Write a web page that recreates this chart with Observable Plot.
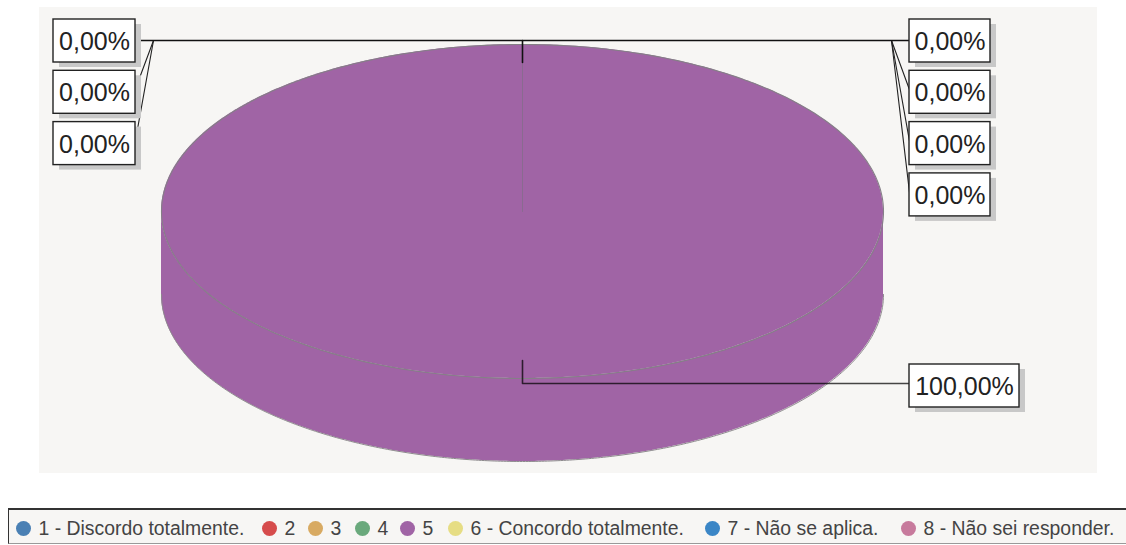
<!DOCTYPE html>
<html lang="pt">
<head>
<meta charset="utf-8">
<script src="https://cdn.jsdelivr.net/npm/d3@7"></script>
<script src="https://cdn.jsdelivr.net/npm/@observablehq/plot@0.6"></script>
<style>
html,body{margin:0;padding:0;background:#fff;overflow:hidden;width:1126px;height:545px}
svg{display:block}
#legend{box-sizing:border-box;position:absolute;left:8px;top:508px;width:1130px;height:36px;background:#f7f6f4;
border-top:2px solid #333;border-left:1px solid #333;border-bottom:1px solid #999;
font:19.4px "Liberation Sans",Arial,sans-serif;color:#444;white-space:nowrap}
#legend span.i{position:absolute;top:2px;height:33px;display:flex;align-items:center;gap:8px}
#legend span.d{display:inline-block;width:15px;height:15px;border-radius:50%}
</style>
</head>
<body>
<div id="chart"></div>
<div id="legend"></div>
<script>
// Data
const categories = ["1 - Discordo totalmente.", "2", "3", "4", "5", "6 - Concordo totalmente.", "7 - Não se aplica.", "8 - Não sei responder."];
const values = [0, 0, 0, 0, 100, 0, 0, 0];
const sliceColors = ["#4a80b4", "#d64c4c", "#d8aa62", "#6aa97c", "#a064a5", "#e6dd84", "#3b86c6", "#c77a9c"];
// Order in which the callouts are stacked
const leftCallouts = [0, 1, 2];
const rightCallouts = [3, 5, 6, 7];
const mainCallout = 4;

// Layout
const W = 1126, H = 495;
const cx = 522, cy = 211, rx = 361, ry = 167, depth = 83;
const boxH = 43, rowStep = 51.3, rowTop = 19;
const leftBox = [53, 135], rightBox = [909, 990], mainBox = [909, 1019];
const elbowY = 40, leftElbow = 153, rightElbow = 891;
const fmt = v => v.toFixed(2).replace(".", ",") + "%";

const arcs = d3.pie().sort(null).value(d => d)(values);
const ring = (a0, a1, n = 360) => d3.range(n + 1).map(i => {
  const a = a0 + (a1 - a0) * i / n;
  return {x: cx + rx * Math.sin(a), y: cy - ry * Math.cos(a)};
});
// top face and wall of each slice that has a value
const drawn = arcs.map((s, i) => ({i, s})).filter(d => d.s.value > 0);
const topRows = drawn.flatMap(d => d3.range(0, 361).map(k => {
  const a = -Math.PI / 2 + Math.PI * k / 360;
  return {i: d.i, x: cx + rx * Math.sin(a), y1: cy - ry * Math.cos(a), y2: cy + ry * Math.cos(a)};
}));
const wallRows = drawn.flatMap(d => d3.range(0, 361).map(k => {
  const a = Math.PI / 2 + Math.PI * k / 360;
  const y = cy - ry * Math.cos(a);
  return {i: d.i, x: cx + rx * Math.sin(a), y1: y, y2: y + depth};
}));
const outline = ring(0, 2 * Math.PI);
const wallBottom = ring(Math.PI / 2, 3 * Math.PI / 2).map(p => ({x: p.x, y: p.y + depth}));

const boxes = [
  ...leftCallouts.map((c, r) => ({c, x1: leftBox[0], x2: leftBox[1], y1: rowTop + r * rowStep, y2: rowTop + r * rowStep + boxH})),
  ...rightCallouts.map((c, r) => ({c, x1: rightBox[0], x2: rightBox[1], y1: rowTop + r * rowStep, y2: rowTop + r * rowStep + boxH})),
  {c: mainCallout, x1: mainBox[0], x2: mainBox[1], y1: 364, y2: 407}
];
const thin = [
  ...leftCallouts.slice(1).map((c, r) => [{x: leftElbow, y: elbowY}, {x: leftBox[1], y: rowTop + (r + 1) * rowStep + 18}]),
  ...rightCallouts.slice(1).map((c, r) => [{x: rightElbow, y: elbowY}, {x: rightBox[0], y: rowTop + (r + 1) * rowStep + 19}])
];
const mainY = 383;

const chart = Plot.plot({
  width: W, height: H,
  marginTop: 0, marginBottom: 0, marginLeft: 0, marginRight: 0,
  x: {domain: [0, W], range: [0, W], axis: null},
  y: {domain: [0, H], range: [0, H], axis: null},
  style: {background: "#fff", fontFamily: "'Liberation Sans', Arial, sans-serif"},
  marks: [
    Plot.rect([{x1: 39, x2: 1097, y1: 7, y2: 473}], {x1: "x1", x2: "x2", y1: "y1", y2: "y2", fill: "#f7f6f4"}),
    Plot.areaY(wallRows, {x: "x", y1: "y1", y2: "y2", fill: d => sliceColors[d.i], z: "i"}),
    Plot.areaY(topRows, {x: "x", y1: "y1", y2: "y2", fill: d => sliceColors[d.i], z: "i"}),
    Plot.line(wallBottom, {x: "x", y: "y", stroke: "#8d8a8d", strokeWidth: 1}),
    Plot.line(outline, {x: "x", y: "y", stroke: "#857f87", strokeWidth: 1.1}),
    Plot.line([{x: cx, y: cy}, {x: cx, y: cy - ry}], {x: "x", y: "y", stroke: "#8a6a90", strokeWidth: 1}),
    // leaders
    ...thin.map(l => Plot.line(l, {x: "x", y: "y", stroke: "#222", strokeWidth: 1.1})),
    Plot.line([{x: leftBox[1], y: elbowY}, {x: rightBox[0], y: elbowY}], {x: "x", y: "y", stroke: "#111", strokeWidth: 1.6}),
    Plot.line([{x: cx, y: elbowY}, {x: cx, y: cy - ry + 18}], {x: "x", y: "y", stroke: "#111", strokeWidth: 1.6}),
    Plot.line([{x: cx, y: 360}, {x: cx, y: mainY}, {x: mainBox[0], y: mainY}], {x: "x", y: "y", stroke: "#000", strokeOpacity: 0.72, strokeWidth: 1.6}),
    // callouts
    Plot.rect(boxes, {x1: d => d.x1 + 6, x2: d => d.x2 + 6, y1: d => d.y1 + 5, y2: d => d.y2 + 5, fill: "#c8c8c8"}),
    Plot.rect(boxes, {x1: "x1", x2: "x2", y1: "y1", y2: "y2", fill: "#fff", stroke: "#222", strokeWidth: 1.4}),
    Plot.text(boxes, {x: d => (d.x1 + d.x2) / 2, y: d => (d.y1 + d.y2) / 2 + 1, text: d => fmt(values[d.c]), fontSize: 25, fill: "#222", lineAnchor: "middle"})
  ]
});
document.getElementById("chart").append(chart);

const legendX = [6.5, 252.5, 298.5, 345.5, 390.5, 438.5, 695.5, 891.5];
const legend = document.getElementById("legend");
categories.forEach((c, i) => {
  const item = document.createElement("span");
  item.className = "i";
  item.style.left = legendX[i] + "px";
  const dot = document.createElement("span");
  dot.className = "d";
  dot.style.background = sliceColors[i];
  const label = document.createElement("span");
  label.textContent = c;
  item.append(dot, label);
  legend.append(item);
});
</script>
</body>
</html>
